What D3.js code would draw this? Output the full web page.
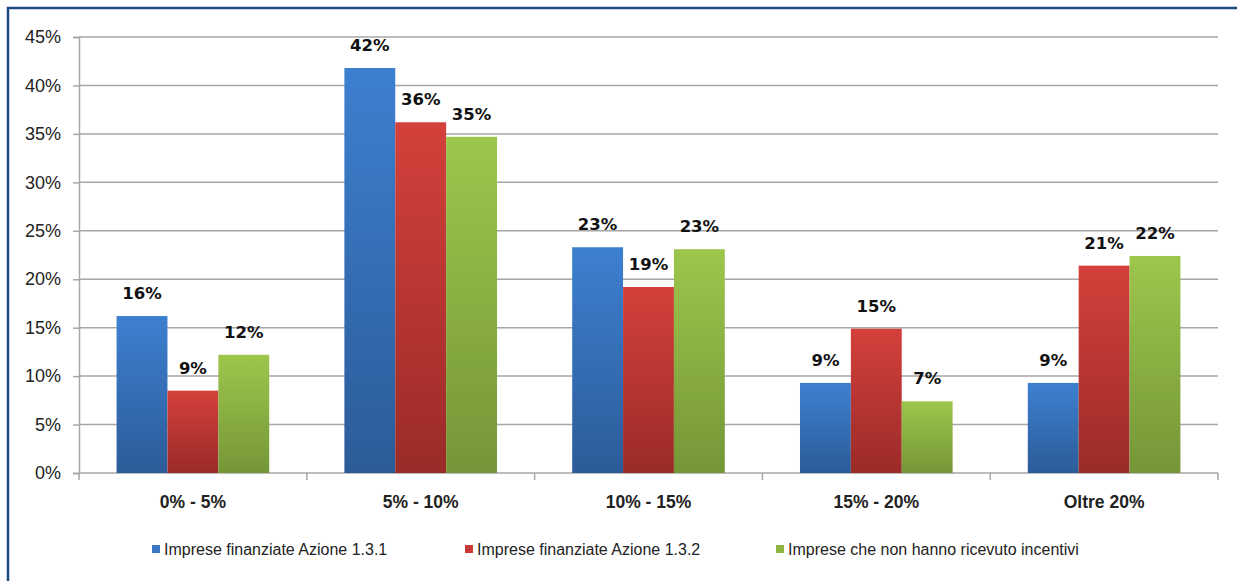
<!DOCTYPE html>
<html>
<head>
<meta charset="utf-8">
<script src="https://cdn.jsdelivr.net/npm/d3@7"></script>
<style>
  body { margin: 0; background: #fff; }
  svg { display: block; }
</style>
</head>
<body>
<div id="chart"></div>
<script>
// data
var categories = ['0% - 5%', '5% - 10%', '10% - 15%', '15% - 20%', 'Oltre 20%'];
var seriesNames = ['Imprese finanziate Azione 1.3.1', 'Imprese finanziate Azione 1.3.2', 'Imprese che non hanno ricevuto incentivi'];
var azione131 = [16.2, 41.8, 23.3, 9.3, 9.3];
var azione132 = [8.5, 36.2, 19.2, 14.9, 21.4];
var nessunIncentivo = [12.2, 34.7, 23.1, 7.4, 22.4];
var yTicks = [0, 5, 10, 15, 20, 25, 30, 35, 40, 45];

var colors = [
  { top: '#3d80d0', bottom: '#2c5b98', key: '#3a76c2' },
  { top: '#d4403b', bottom: '#9a2b28', key: '#c83a35' },
  { top: '#9dc64c', bottom: '#759638', key: '#8fb444' }
];

var width = 1237, height = 581;
var pad = { left: 79, right: 19, top: 37, bottom: 108 };

var svg = d3.select('#chart').append('svg')
  .attr('width', width)
  .attr('height', height);

var defs = svg.append('defs');
colors.forEach(function(c, i){
  var g = defs.append('linearGradient')
    .attr('id', 'grad' + i)
    .attr('x1', 0).attr('y1', 0).attr('x2', 0).attr('y2', 1);
  g.append('stop').attr('offset', '0%').attr('stop-color', c.top);
  g.append('stop').attr('offset', '100%').attr('stop-color', c.bottom);
});

// frame
svg.append('path')
  .attr('d', 'M8,' + height + 'V8H' + width)
  .attr('fill', 'none')
  .attr('stroke', '#1f4a7f')
  .attr('stroke-width', 2.5);

var x0 = d3.scaleBand()
  .domain(categories)
  .range([pad.left, width - pad.right])
  .paddingInner(0.33)
  .paddingOuter(0.165);

var x1 = d3.scaleBand()
  .domain([0, 1, 2])
  .range([0, x0.bandwidth()]);

var y = d3.scaleLinear()
  .domain([0, 45])
  .range([height - pad.bottom, pad.top]);

// gridlines
svg.append('g').selectAll('line')
  .data(yTicks.slice(1))
  .enter().append('line')
  .attr('x1', pad.left)
  .attr('x2', width - pad.right)
  .attr('y1', function(d){ return y(d); })
  .attr('y2', function(d){ return y(d); })
  .attr('stroke', '#a6a6a6')
  .attr('stroke-width', 1.5);

// y axis
var yAxis = svg.append('g')
  .attr('transform', 'translate(' + pad.left + ',0)')
  .call(d3.axisLeft(y).tickValues(yTicks).tickSize(6).tickPadding(12)
    .tickFormat(function(d){ return d + '%'; }));
yAxis.select('.domain').attr('stroke', '#a6a6a6').attr('stroke-width', 1.5);
yAxis.selectAll('.tick line').attr('stroke', '#a6a6a6').attr('stroke-width', 1.5);
yAxis.selectAll('.tick text')
  .attr('font-family', '"Liberation Sans", Arial, sans-serif')
  .attr('font-size', 18)
  .attr('fill', '#222');

// x axis
var xAxis = svg.append('g')
  .attr('transform', 'translate(0,' + y(0) + ')');
xAxis.append('line')
  .attr('x1', pad.left).attr('x2', width - pad.right)
  .attr('stroke', '#a6a6a6').attr('stroke-width', 1.5);
var step = (width - pad.left - pad.right) / categories.length;
xAxis.selectAll('.sep')
  .data(d3.range(categories.length + 1))
  .enter().append('line')
  .attr('x1', function(d){ return pad.left + d * step; })
  .attr('x2', function(d){ return pad.left + d * step; })
  .attr('y1', 0).attr('y2', 7)
  .attr('stroke', '#a6a6a6').attr('stroke-width', 1.5);
xAxis.selectAll('.cat')
  .data(categories)
  .enter().append('text')
  .attr('x', function(d){ return x0(d) + x0.bandwidth() / 2; })
  .attr('y', 35)
  .attr('text-anchor', 'middle')
  .attr('font-family', '"Liberation Sans", Arial, sans-serif')
  .attr('font-weight', 'bold')
  .attr('font-size', 17.5)
  .attr('fill', '#222')
  .text(function(d){ return d; });

// bars
var series = [azione131, azione132, nessunIncentivo];
var rows = [];
categories.forEach(function(cat, ci){
  series.forEach(function(s, si){
    rows.push({ cat: cat, s: si, value: s[ci] });
  });
});

svg.append('g').selectAll('rect')
  .data(rows)
  .enter().append('rect')
  .attr('x', function(d){ return x0(d.cat) + x1(d.s); })
  .attr('y', function(d){ return y(d.value); })
  .attr('width', x1.bandwidth())
  .attr('height', function(d){ return y(0) - y(d.value); })
  .attr('fill', function(d){ return 'url(#grad' + d.s + ')'; });

svg.append('g').selectAll('text')
  .data(rows)
  .enter().append('text')
  .attr('x', function(d){ return x0(d.cat) + x1(d.s) + x1.bandwidth() / 2; })
  .attr('y', function(d){ return y(d.value) - 17; })
  .attr('text-anchor', 'middle')
  .attr('font-family', '"DejaVu Sans", Verdana, sans-serif')
  .attr('font-weight', 'bold')
  .attr('font-size', 16.5)
  .attr('fill', '#111')
  .text(function(d){ return Math.round(d.value) + '%'; });

// legend
var legendX = [152, 465, 776];
var legend = svg.append('g').selectAll('g')
  .data(seriesNames)
  .enter().append('g')
  .attr('transform', function(d, i){ return 'translate(' + legendX[i] + ',549)'; });
legend.append('rect')
  .attr('x', 0).attr('y', -4)
  .attr('width', 8).attr('height', 8)
  .attr('fill', function(d, i){ return colors[i].key; });
legend.append('text')
  .attr('x', 12)
  .attr('dy', '0.36em')
  .attr('font-family', '"Liberation Sans Narrow", "Liberation Sans", Arial, sans-serif')
  .attr('font-stretch', 'condensed')
  .attr('font-size', 16)
  .attr('fill', '#222')
  .text(function(d){ return d; });
</script>
</body>
</html>
